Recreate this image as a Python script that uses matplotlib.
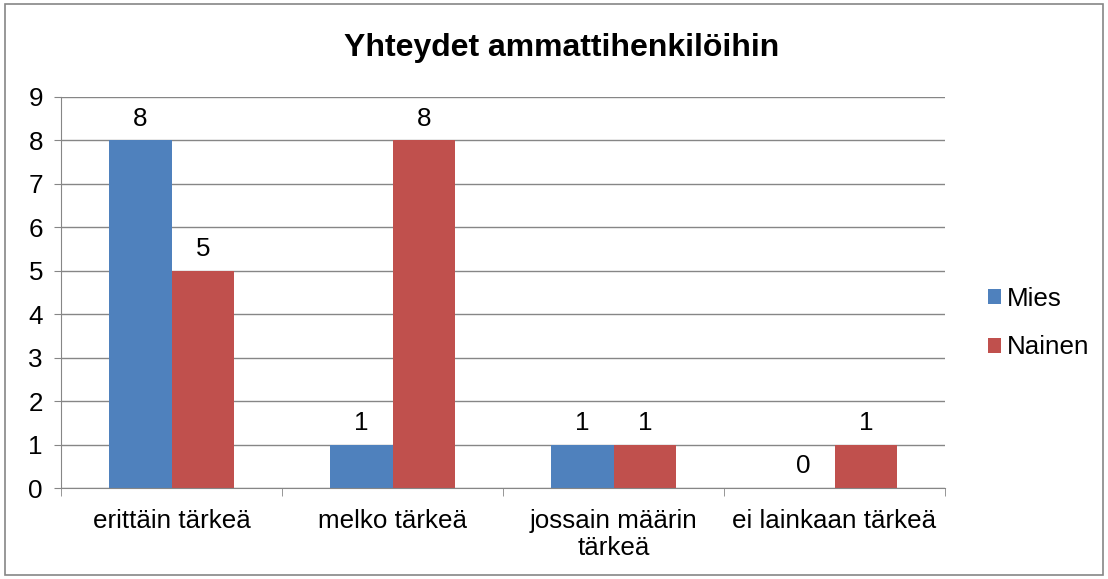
import matplotlib.pyplot as plt
import numpy as np
from matplotlib.patches import Rectangle

categories = ["erittäin tärkeä", "melko tärkeä", "jossain määrin\ntärkeä", "ei lainkaan tärkeä"]
mies = [8, 1, 1, 0]
nainen = [5, 8, 1, 1]
series_names = ["Mies", "Nainen"]
colors = ["#4F81BD", "#C0504D"]
title = "Yhteydet ammattihenkilöihin"

plt.rcParams['font.family'] = ['Liberation Sans', 'DejaVu Sans']
FS = 18.7

fig = plt.figure(figsize=(11.08, 5.79), dpi=100)
ax = fig.add_axes([61/1108, 1-488/579, (945-61)/1108, (488-97)/579])

x = np.arange(len(categories))
w = 0.285
b1 = ax.bar(x - w/2, mies, w, color=colors[0], label=series_names[0])
b2 = ax.bar(x + w/2, nainen, w, color=colors[1], label=series_names[1])
for bars in (b1, b2):
    ax.bar_label(bars, padding=7, fontsize=FS)

ax.set_xlim(-0.5, len(categories) - 0.5)
ax.set_ylim(0, 9)
ax.set_yticks(range(0, 10))
ax.yaxis.grid(True, color="#868686", linewidth=1)
ax.set_axisbelow(True)
for s in ("top", "right"):
    ax.spines[s].set_visible(False)
for s in ("left", "bottom"):
    ax.spines[s].set_color("#868686")
ax.tick_params(axis='y', length=5, color="#868686", labelsize=FS, pad=8)
ax.set_xticks(x)
ax.set_xticklabels(categories, fontsize=FS, linespacing=1.15)
ax.tick_params(axis='x', length=0, pad=15)
ax.set_xticks(np.arange(-0.5, len(categories)), minor=True)
ax.tick_params(axis='x', which='minor', length=6, color="#868686")

fig.text(562/1108, 1-48/579, title, ha='center', va='center', fontsize=23, fontweight='bold')

leg = fig.legend(loc='center left', bbox_to_anchor=(965/1108, 1-323/579), frameon=False,
                 fontsize=FS, handlelength=0.5, handleheight=0.5, handletextpad=0.2,
                 labelspacing=0.95)

fig.patches.append(Rectangle((5/1108, 4/579), 1098/1108, 571/579, transform=fig.transFigure,
                             fill=False, edgecolor="#868686", linewidth=1.2))

fig.savefig("out.png", dpi=100)
